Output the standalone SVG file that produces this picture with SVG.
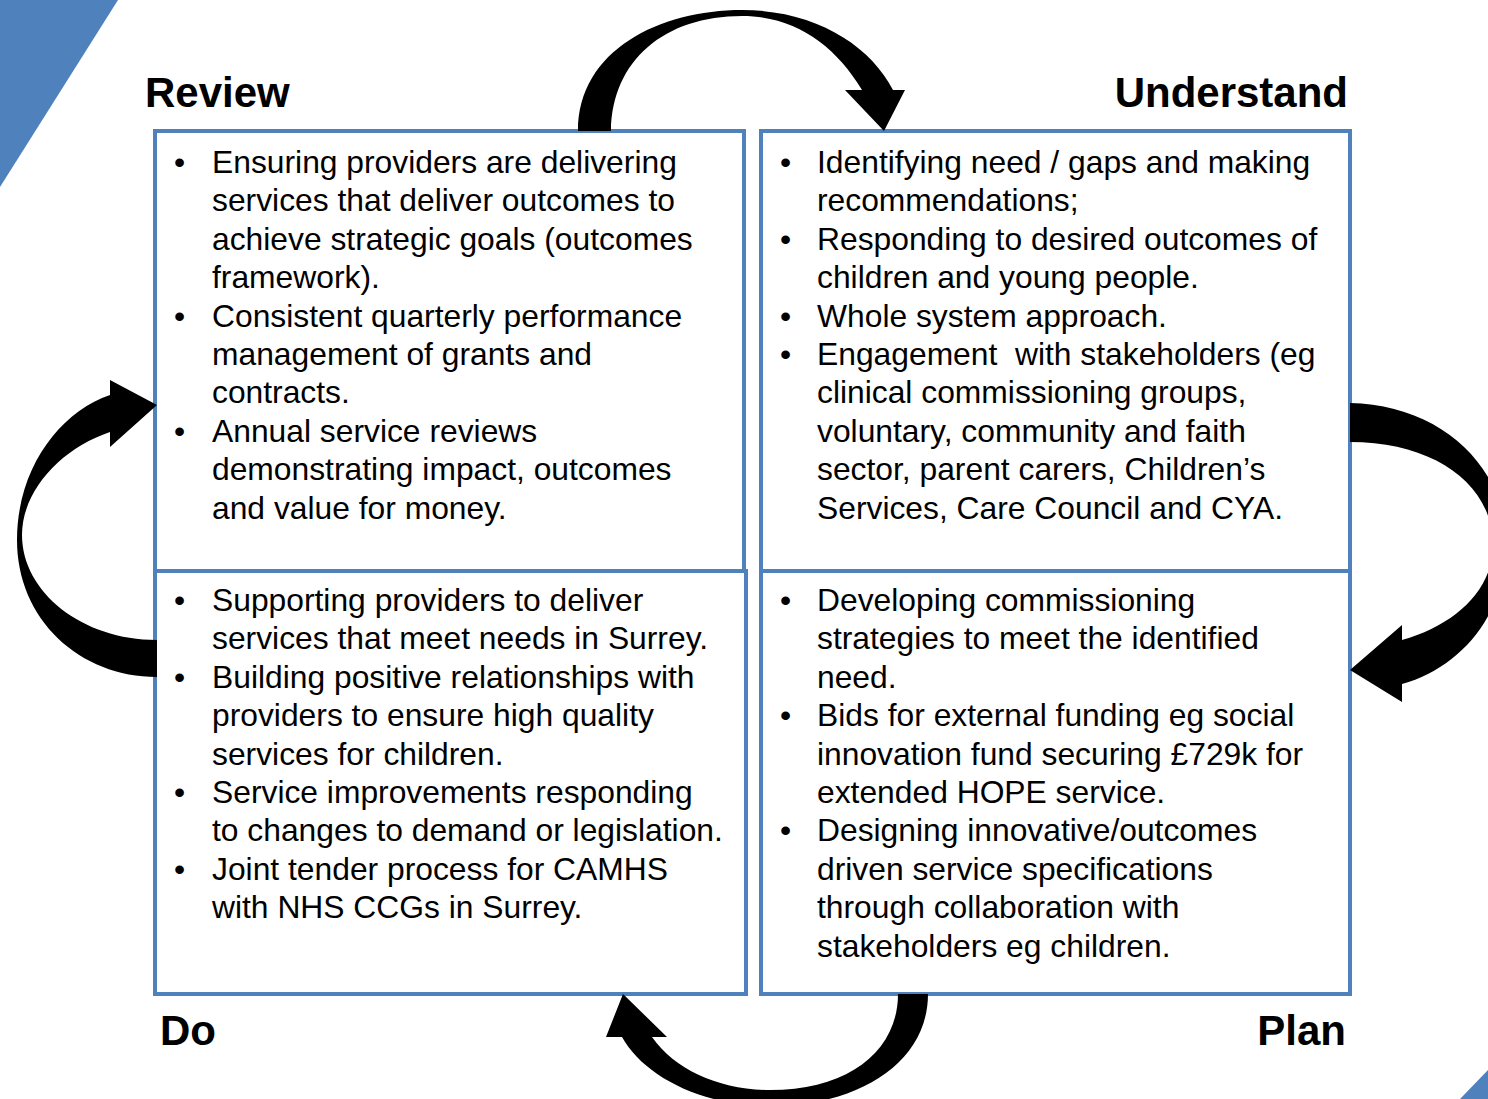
<svg xmlns="http://www.w3.org/2000/svg" width="1488" height="1099" viewBox="0 0 1488 1099">
<style>
.box{fill:#fff;stroke:#4f81bd;stroke-width:4}
.t{font-family:"Liberation Sans",Arial,sans-serif;font-size:31.8px;fill:#000}
.h{font-family:"Liberation Sans",Arial,sans-serif;font-size:42px;font-weight:bold;fill:#000}
.arr{fill:#000}
.corner{fill:#4f81bd}
</style>
<rect width="1488" height="1099" fill="#fff"/>
<polygon class="corner" points="0,0 118,0 0,187"/>
<polygon class="corner" points="1488,1070 1488,1099 1460,1099"/>

<g id="review-box">
<rect class="box" x="155" y="131" width="589" height="440"/>
<text class="t">
<tspan x="174" y="173">•</tspan><tspan x="212" y="173">Ensuring providers are delivering</tspan>
<tspan x="212" y="211.4">services that deliver outcomes to</tspan>
<tspan x="212" y="249.8">achieve strategic goals (outcomes</tspan>
<tspan x="212" y="288.2">framework).</tspan>
<tspan x="174" y="326.6">•</tspan><tspan x="212" y="326.6">Consistent quarterly performance</tspan>
<tspan x="212" y="365">management of grants and</tspan>
<tspan x="212" y="403.4">contracts.</tspan>
<tspan x="174" y="441.8">•</tspan><tspan x="212" y="441.8">Annual service reviews</tspan>
<tspan x="212" y="480.2">demonstrating impact, outcomes</tspan>
<tspan x="212" y="518.6">and value for money.</tspan>
</text>
</g>

<g id="understand-box">
<rect class="box" x="761" y="131" width="589" height="440"/>
<text class="t" xml:space="preserve"><tspan x="780" y="173">•</tspan><tspan x="817" y="173">Identifying need / gaps and making</tspan><tspan x="817" y="211.4">recommendations;</tspan><tspan x="780" y="249.8">•</tspan><tspan x="817" y="249.8">Responding to desired outcomes of</tspan><tspan x="817" y="288.2">children and young people.</tspan><tspan x="780" y="326.6">•</tspan><tspan x="817" y="326.6">Whole system approach.</tspan><tspan x="780" y="365">•</tspan><tspan x="817" y="365">Engagement  with stakeholders (eg</tspan><tspan x="817" y="403.4">clinical commissioning groups,</tspan><tspan x="817" y="441.8">voluntary, community and faith</tspan><tspan x="817" y="480.2">sector, parent carers, Children’s</tspan><tspan x="817" y="518.6">Services, Care Council and CYA.</tspan></text>
</g>

<g id="do-box">
<rect class="box" x="155" y="571" width="591" height="423"/>
<text class="t">
<tspan x="174" y="611">•</tspan><tspan x="212" y="611">Supporting providers to deliver</tspan>
<tspan x="212" y="649.4">services that meet needs in Surrey.</tspan>
<tspan x="174" y="687.8">•</tspan><tspan x="212" y="687.8">Building positive relationships with</tspan>
<tspan x="212" y="726.2">providers to ensure high quality</tspan>
<tspan x="212" y="764.6">services for children.</tspan>
<tspan x="174" y="803">•</tspan><tspan x="212" y="803">Service improvements responding</tspan>
<tspan x="212" y="841.4">to changes to demand or legislation.</tspan>
<tspan x="174" y="879.8">•</tspan><tspan x="212" y="879.8">Joint tender process for CAMHS</tspan>
<tspan x="212" y="918.2">with NHS CCGs in Surrey.</tspan>
</text>
</g>

<g id="plan-box">
<rect class="box" x="761" y="571" width="589" height="423"/>
<text class="t">
<tspan x="780" y="611">•</tspan><tspan x="817" y="611">Developing commissioning</tspan>
<tspan x="817" y="649.4">strategies to meet the identified</tspan>
<tspan x="817" y="687.8">need.</tspan>
<tspan x="780" y="726.2">•</tspan><tspan x="817" y="726.2">Bids for external funding eg social</tspan>
<tspan x="817" y="764.6">innovation fund securing £729k for</tspan>
<tspan x="817" y="803">extended HOPE service.</tspan>
<tspan x="780" y="841.4">•</tspan><tspan x="817" y="841.4">Designing innovative/outcomes</tspan>
<tspan x="817" y="879.8">driven service specifications</tspan>
<tspan x="817" y="918.2">through collaboration with</tspan>
<tspan x="817" y="956.6">stakeholders eg children.</tspan>
</text>
</g>

<g id="label-review"><text class="h" x="145" y="107">Review</text></g>
<g id="label-understand"><text class="h" x="1348" y="107" text-anchor="end">Understand</text></g>
<g id="label-do"><text class="h" x="160" y="1045">Do</text></g>
<g id="label-plan"><text class="h" x="1346" y="1045" text-anchor="end">Plan</text></g>

<g id="connectors">
<path class="arr" d="M578,131 C578,50 660,10 742,10 C815,10 870,45 893,90 L905,90 L884,131 L845,90 L862,90 C835,45 795,16 742,16 C665,16 612,60 611,131 Z"/>
<path class="arr" d="M1350,403 C1440,405 1506,465 1506,545 C1506,615 1460,668 1402,684 L1402,702 L1350,670 L1402,625 L1402,640 C1455,625 1493,590 1493,545 C1493,485 1435,442 1350,442 Z"/>
<path class="arr" d="M928,994 C928,1062 860,1106 770,1106 C700,1106 643,1075 622,1037 L606,1037 L623,994 L667,1037 L652,1037 C675,1070 720,1090 770,1090 C850,1090 898,1050 898,994 Z"/>
<path class="arr" d="M157,677 C80,677 17,620 17,540 C17,468 60,412 110,395 L110,380 L157,405 L110,447 L110,432 C62,448 22,490 22,535 C22,592 82,640 157,640 Z"/>
</g>
</svg>
